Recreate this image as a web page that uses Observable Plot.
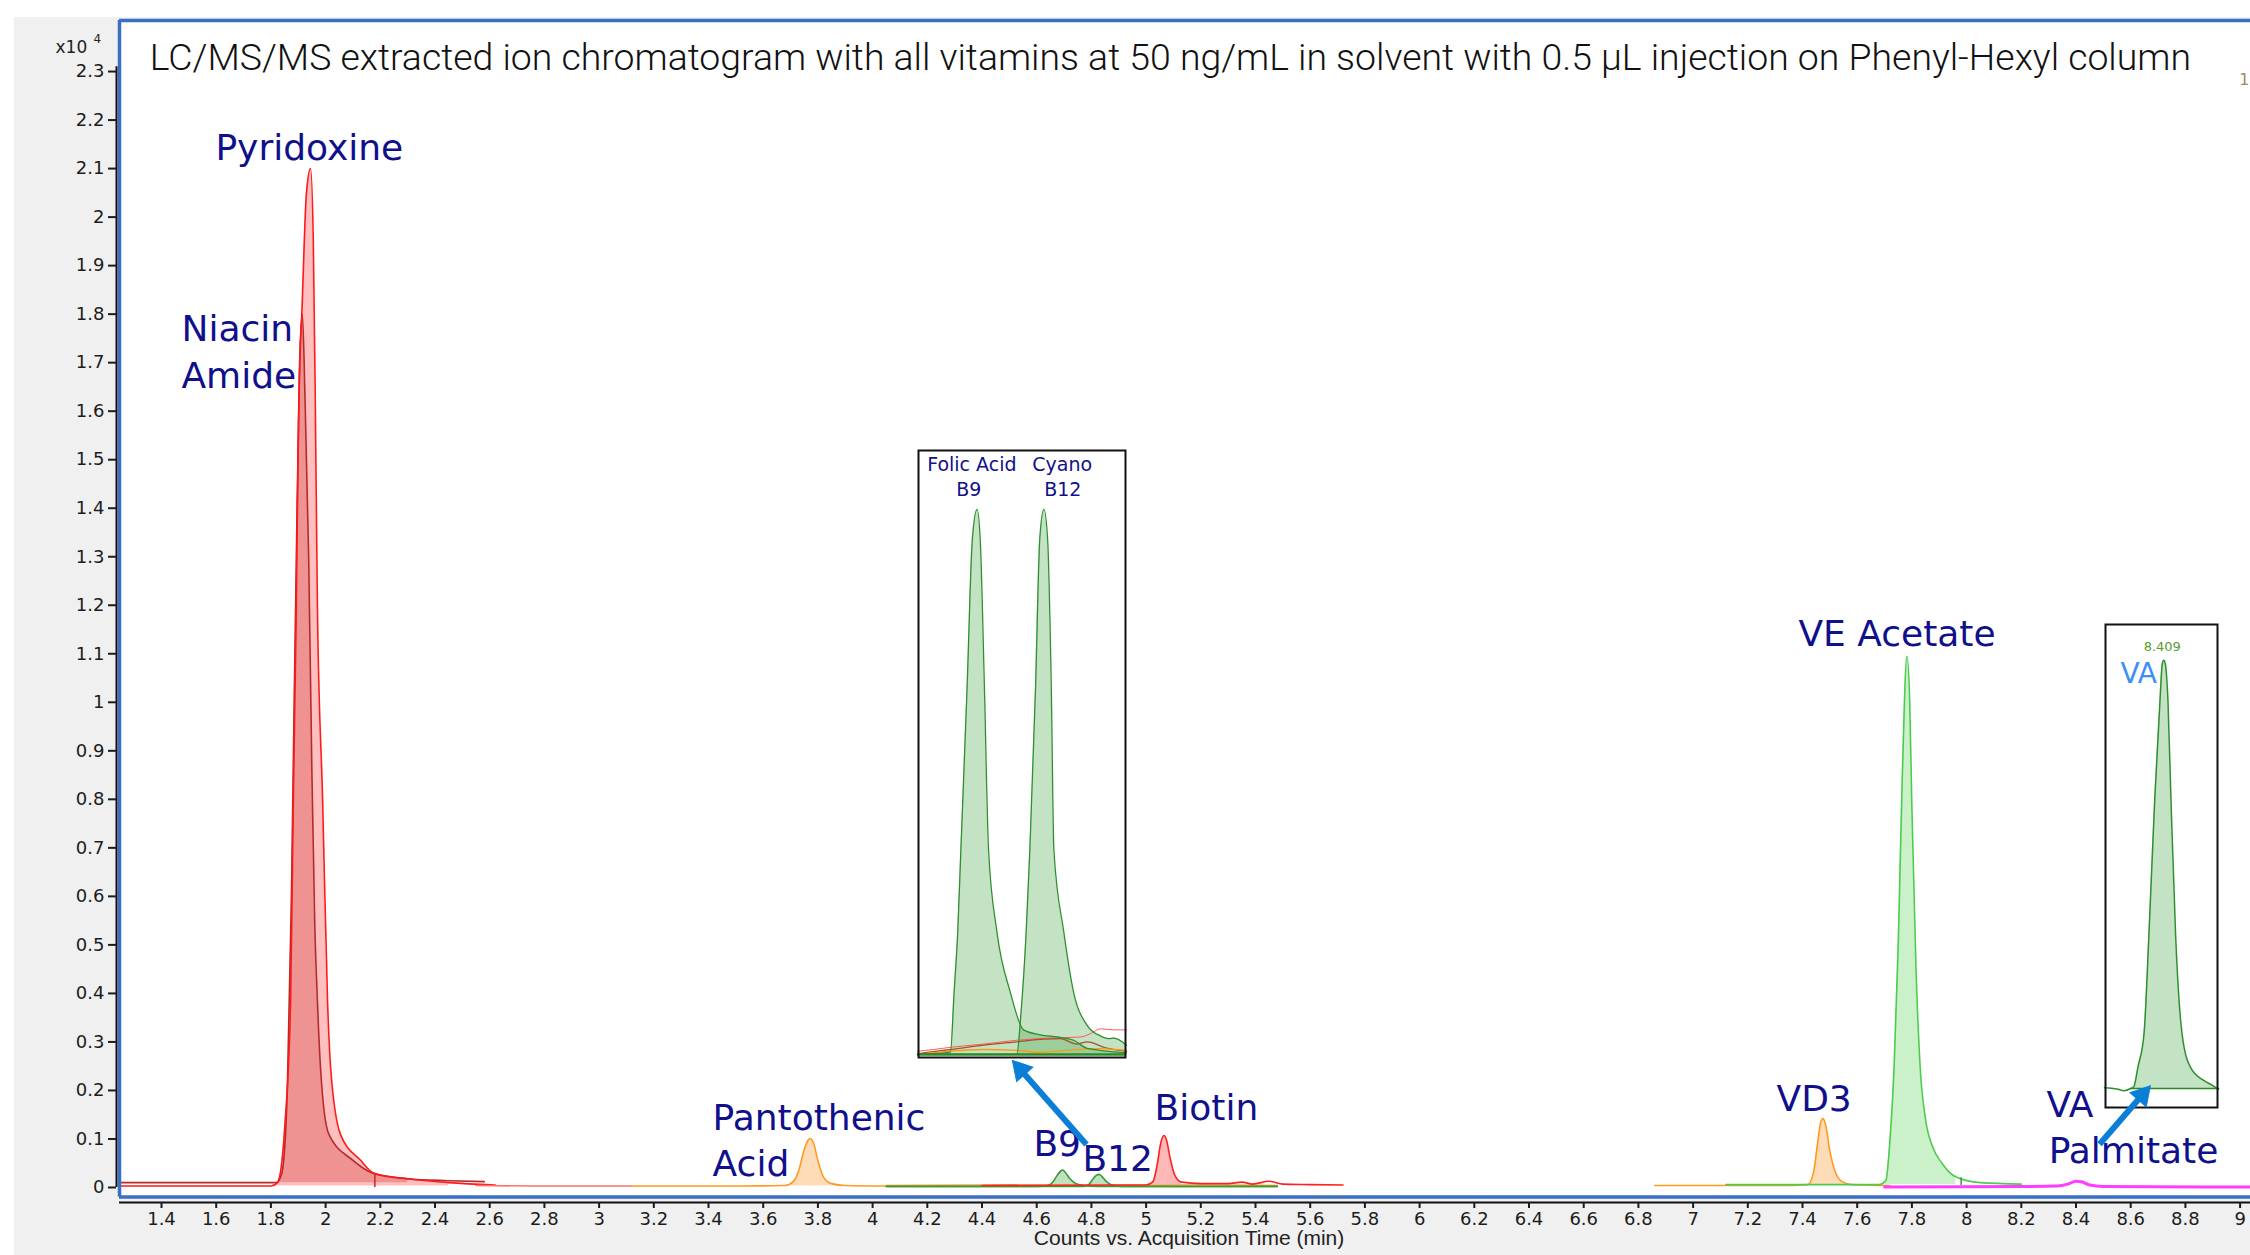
<!DOCTYPE html>
<html><head><meta charset="utf-8">
<script src="https://cdn.jsdelivr.net/npm/d3@7"></script>
<script src="https://cdn.jsdelivr.net/npm/@observablehq/plot@0.6"></script>
<style>
html,body{margin:0;padding:0;background:#fff;overflow:hidden;width:2250px;height:1255px}
#wrap{position:relative;width:2250px;height:1255px;overflow:hidden}
#bg{position:absolute;left:14px;top:17px;right:0;bottom:0;background:#f0f0f0}
#main,#overlay{position:absolute;left:0;top:0}
#overlay{pointer-events:none}
#inset1{position:absolute;left:917px;top:449px}
#inset2{position:absolute;left:2104px;top:623px}
svg{overflow:visible}
</style></head><body>
<div id="wrap"><div id="bg"></div><div id="main"></div><div id="inset1"></div><div id="inset2"></div><div id="overlay"></div></div>
<script>
// ---------- DATA (time in min, counts in x10^4) ----------
const titleText = "LC/MS/MS extracted ion chromatogram with all vitamins at 50 ng/mL in solvent with 0.5 \u03bcL injection on Phenyl-Hexyl column";
const xAxisTitle = "Counts vs. Acquisition Time (min)";
const yTicks = [0,0.1,0.2,0.3,0.4,0.5,0.6,0.7,0.8,0.9,1,1.1,1.2,1.3,1.4,1.5,1.6,1.7,1.8,1.9,2,2.1,2.2,2.3];
const xTicks = [1.4,1.6,1.8,2,2.2,2.4,2.6,2.8,3,3.2,3.4,3.6,3.8,4,4.2,4.4,4.6,4.8,5,5.2,5.4,5.6,5.8,6,6.2,6.4,6.6,6.8,7,7.2,7.4,7.6,7.8,8,8.2,8.4,8.6,8.8,9];

const niacinAmide = [[1.25,0.010],[1.60,0.010],[1.82,0.010],[1.84,0.03],[1.86,0.20],[1.875,0.60],[1.885,1.00],[1.893,1.30],[1.905,1.70],[1.915,1.80],[1.925,1.62],[1.938,1.30],[1.95,0.85],[1.96,0.55],[1.97,0.385],[1.981,0.25],[2.011,0.111],[2.10,0.056],[2.175,0.029],[2.30,0.018],[2.45,0.014],[2.58,0.012]];
const pyridoxine = [[1.25,0.003],[1.80,0.003],[1.824,0.01],[1.85,0.12],[1.872,0.385],[1.882,0.80],[1.893,1.20],[1.901,1.58],[1.915,1.83],[1.93,2.05],[1.945,2.10],[1.955,1.95],[1.963,1.58],[1.97,1.20],[1.989,0.80],[2.007,0.385],[2.018,0.25],[2.054,0.11],[2.128,0.056],[2.175,0.03],[2.30,0.018],[2.45,0.010],[2.62,0.005]];
const redSegment = [[2.55,0.004],[2.8,0.003],[3.12,0.003]];
const pantothenicAcid = [[3.12,0.003],[3.50,0.003],[3.68,0.004],[3.71,0.012],[3.73,0.035],[3.75,0.078],[3.765,0.098],[3.772,0.101],[3.785,0.09],[3.80,0.055],[3.82,0.022],[3.85,0.008],[3.90,0.004],[4.05,0.003]];
const orangeLow = [[4.05,0.004],[4.5,0.005],[4.9,0.004],[5.2,0.005],[5.48,0.004]];
const folicAcidB9 = [[4.05,0.002],[4.60,0.002],[4.64,0.004],[4.66,0.012],[4.675,0.025],[4.688,0.034],[4.695,0.036],[4.705,0.031],[4.72,0.019],[4.74,0.009],[4.77,0.004],[4.82,0.002],[5.48,0.002]];
const cyanoB12 = [[4.05,0.002],[4.77,0.002],[4.79,0.006],[4.805,0.017],[4.818,0.025],[4.828,0.027],[4.838,0.023],[4.855,0.012],[4.875,0.005],[4.91,0.002],[5.48,0.002]];
const biotin = [[4.40,0.004],[4.90,0.005],[5.00,0.005],[5.025,0.012],[5.04,0.045],[5.053,0.09],[5.065,0.107],[5.075,0.097],[5.088,0.06],[5.105,0.025],[5.13,0.011],[5.20,0.008],[5.30,0.008],[5.35,0.011],[5.39,0.007],[5.45,0.013],[5.50,0.007],[5.60,0.006],[5.72,0.005]];
const vd3 = [[6.86,0.004],[7.30,0.004],[7.42,0.006],[7.44,0.03],[7.455,0.09],[7.467,0.135],[7.475,0.142],[7.485,0.128],[7.50,0.075],[7.52,0.032],[7.545,0.012],[7.58,0.006],[7.72,0.004]];
const veAcetate = [[7.12,0.006],[7.68,0.006],[7.705,0.015],[7.72,0.10],[7.735,0.25],[7.75,0.50],[7.765,0.85],[7.782,1.095],[7.792,1.00],[7.80,0.78],[7.815,0.45],[7.83,0.25],[7.85,0.14],[7.875,0.085],[7.91,0.05],[7.96,0.022],[8.05,0.01],[8.20,0.007]];
const vaPalmitate = [[7.70,0.001],[8.20,0.002],[8.33,0.003],[8.37,0.007],[8.40,0.013],[8.42,0.012],[8.45,0.005],[8.50,0.002],[9.04,0.001]];
const integrationTicks = [[2.18,0.0,0.026,"red"],[7.98,0.004,0.02,"green"]];

const peakLabels = [
  ["Pyridoxine",1.597,2.141],["Niacin",1.473,1.768],["Amide",1.473,1.671],
  ["Pantothenic",3.415,0.142],["Acid",3.415,0.047],["B9",4.588,0.089],["B12",4.767,0.058],
  ["Biotin",5.031,0.163],["VD3",7.305,0.181],["VE Acetate",7.385,1.140],["VA",8.292,0.169],["Palmitate",8.30,0.074]
];
const arrows = [[4.782,0.0886,4.511,0.262],[8.486,0.089,8.672,0.210]];

// inset 1 (normalized intensity)
const insetB9 = [[4.58,0],[4.62,0.002],[4.643,0.004],[4.650,0.113],[4.657,0.225],[4.663,0.375],[4.675,0.676],[4.685,0.946],[4.694,1.0],[4.700,0.946],[4.708,0.676],[4.716,0.375],[4.732,0.225],[4.758,0.113],[4.783,0.045],[4.815,0.036],[4.847,0.032],[4.879,0.026],[4.905,0.011],[4.98,0.003]];
const insetB12 = [[4.58,0],[4.770,0],[4.778,0.075],[4.788,0.225],[4.795,0.375],[4.806,0.676],[4.814,0.946],[4.822,1.0],[4.829,0.946],[4.836,0.676],[4.841,0.375],[4.860,0.225],[4.879,0.113],[4.905,0.053],[4.930,0.034],[4.946,0.029],[4.956,0.030],[4.98,0.017]];
const insetRed = [[4.58,0.006],[4.611,0.009],[4.643,0.013],[4.707,0.019],[4.770,0.026],[4.834,0.030],[4.892,0.032],[4.911,0.038],[4.930,0.047],[4.956,0.045],[4.98,0.045]];
const insetBrown = [[4.58,0.0015],[4.643,0.009],[4.707,0.017],[4.770,0.023],[4.822,0.028],[4.853,0.029],[4.885,0.019],[4.905,0.023],[4.94,0.012],[4.98,0.006]];
const insetOrange = [[4.58,0],[4.643,0.006],[4.707,0.009],[4.770,0.0075],[4.815,0.004],[4.866,0.0075],[4.930,0.0105],[4.98,0.0075]];
const inset1Labels = [["Folic Acid",4.684,1.081],["B9",4.678,1.036],["Cyano",4.857,1.081],["B12",4.858,1.036]];

// inset 2 (VA, normalized)
const insetVA = [[8.253,0.002],[8.286,-0.001],[8.304,-0.005],[8.322,0],[8.330,0.004],[8.341,0.05],[8.357,0.128],[8.370,0.361],[8.385,0.672],[8.399,0.905],[8.405,0.991],[8.409,1.0],[8.413,0.991],[8.420,0.905],[8.428,0.672],[8.440,0.361],[8.457,0.128],[8.479,0.05],[8.514,0.019],[8.536,0.008],[8.553,-0.002]];
const insetVAbase = [[8.322,0],[8.553,0]];
const inset2PeakTime = "8.409";

// ---------- STYLES ----------
const NAVY = "#10108c";
const BLUE = "#3a6fc6";
const ARROW = "#0b7fd8";
const traces = [
  {data: niacinAmide, stroke:"#b52a2a", fill:"#b64444", op:0.32, win:[1.82,2.30], base:0.010},
  {data: pyridoxine, stroke:"#ff1a1a", fill:"#ff0000", op:0.25, win:[1.80,2.45], base:0.003},
  {data: redSegment, stroke:"#ff7070"},
  {data: pantothenicAcid, stroke:"#ff9a22", fill:"#ff9a33", op:0.35, win:[3.68,3.90], base:0.003},
  {data: orangeLow, stroke:"#e8961e"},
  {data: folicAcidB9, stroke:"#3a9a3a", fill:"#3aa03a", op:0.32, win:[4.62,4.80], base:0.002},
  {data: cyanoB12, stroke:"#3a9a3a", fill:"#3aa03a", op:0.32, win:[4.77,4.92], base:0.002},
  {data: biotin, stroke:"#ff2020", fill:"#ff0000", op:0.28, win:[5.00,5.16], base:0.005},
  {data: vd3, stroke:"#ff9a22", fill:"#ff9a33", op:0.35, win:[7.40,7.60], base:0.004},
  {data: veAcetate, stroke:"#4ccc4c", fill:"#50d050", op:0.3, win:[7.68,7.98], base:0.006},
  {data: vaPalmitate, stroke:"#ff3cff", width:3}
];

const X_DOMAIN = [1.2464, 9.038];
const Y_DOMAIN = [-0.0196, 2.4052];
const LAYOUT = {width: 2250, height: 1255, marginLeft: 119, marginRight: 0, marginTop: 20, marginBottom: 58.5};
const fmt = d => String(+(+d).toFixed(1));

const marks = [Plot.frame({fill:"white", stroke:null})];
for (const tr of traces) {
  if (tr.fill) {
    marks.push(Plot.areaY(tr.data.filter(d => d[0] >= tr.win[0] && d[0] <= tr.win[1]),
      {x: d => d[0], y1: tr.base, y2: d => d[1], fill: tr.fill, fillOpacity: tr.op, curve: "monotone-x"}));
  }
}
for (const tr of traces) {
  marks.push(Plot.line(tr.data, {x: d => d[0], y: d => d[1], stroke: tr.stroke, strokeWidth: tr.width || 1.6, curve: "monotone-x"}));
}
marks.push(
  Plot.ruleX(integrationTicks, {x: d => d[0], y1: d => d[1], y2: d => d[2], stroke: d => d[3] === "red" ? "#d02020" : "#3a9a3a", strokeWidth: 1.5}),
  Plot.ruleY([Y_DOMAIN[1]], {stroke: BLUE, strokeWidth: 3.5}),
  Plot.ruleY([Y_DOMAIN[0]], {stroke: BLUE, strokeWidth: 3.5}),
  Plot.ruleX([X_DOMAIN[0]], {stroke: BLUE, strokeWidth: 3.5}),
  Plot.ruleX([X_DOMAIN[0]], {y1: 0, y2: 2.31, dx: -3, stroke: "#111", strokeWidth: 2}),
  Plot.ruleY([Y_DOMAIN[0]], {dy: 5.5, stroke: "#111", strokeWidth: 2}),
  Plot.axisY(yTicks, {anchor: "left", tickSize: 8, tickPadding: 4, dx: -3, tickFormat: fmt, fontSize: 18, color: "#1c1c1c", strokeWidth: 2, label: null}),
  Plot.axisX(xTicks, {anchor: "bottom", tickSize: 6, tickPadding: 4, dy: 5.5, tickFormat: fmt, fontSize: 18, color: "#1c1c1c", strokeWidth: 2, label: null}),
  Plot.text([xAxisTitle], {frameAnchor: "bottom", dx: 4, dy: 47.5, fontSize: 21, fontFamily: "Liberation Sans", fill: "#222"}),
  Plot.text(["x10"], {x: [1.0124], y: [2.350], textAnchor: "start", fontSize: 17, fill: "#222"}),
  Plot.text(["4"], {x: [1.151], y: [2.366], textAnchor: "start", fontSize: 12, fill: "#222"}),
  Plot.text(["1"], {x: [8.997], y: [2.282], textAnchor: "start", fontSize: 16, fill: "#a08878"}),
  Plot.text([titleText], {x: [1.357], y: [2.327], textAnchor: "start", fontSize: 37.4, fontFamily: "Roboto", fontWeight: 300, fill: "#111"}),
  Plot.text(peakLabels, {x: d => d[1], y: d => d[2], text: d => d[0], textAnchor: "start", fontSize: 36, fill: NAVY})
);

const main = Plot.plot({
  ...LAYOUT,
  x: {domain: X_DOMAIN},
  y: {domain: Y_DOMAIN},
  style: {background: "transparent", fontFamily: "DejaVu Sans", overflow: "visible"},
  marks
});
document.getElementById("main").appendChild(main);

// ---------- INSET 1 ----------
const inset1 = Plot.plot({
  width: 209, height: 609, margin: 0,
  x: {domain: [4.58, 4.98], axis: null},
  y: {domain: [-0.0075, 1.11], axis: null},
  style: {background: "white", fontFamily: "DejaVu Sans", overflow: "visible"},
  marks: [
    Plot.areaY(insetB9, {x: d => d[0], y: d => d[1], fill: "#3aa03a", fillOpacity: 0.3, curve: "monotone-x"}),
    Plot.areaY(insetB12, {x: d => d[0], y: d => d[1], fill: "#3aa03a", fillOpacity: 0.3, curve: "monotone-x"}),
    Plot.line(insetRed, {x: d => d[0], y: d => d[1], stroke: "#ff5a5a", strokeWidth: 1, curve: "monotone-x"}),
    Plot.line(insetBrown, {x: d => d[0], y: d => d[1], stroke: "#a8502c", strokeWidth: 1.3, curve: "monotone-x"}),
    Plot.line(insetOrange, {x: d => d[0], y: d => d[1], stroke: "#ff9a10", strokeWidth: 1.3, curve: "monotone-x"}),
    Plot.line(insetB9, {x: d => d[0], y: d => d[1], stroke: "#2f8f2f", strokeWidth: 1.3, curve: "monotone-x"}),
    Plot.line(insetB12, {x: d => d[0], y: d => d[1], stroke: "#2f8f2f", strokeWidth: 1.3, curve: "monotone-x"}),
    Plot.ruleY([0], {stroke: "#2a8a2a", strokeWidth: 2.5}),
    Plot.text(inset1Labels, {x: d => d[1], y: d => d[2], text: d => d[0], fontSize: 19, fill: NAVY}),
    Plot.frame({stroke: "#111", strokeWidth: 2, inset: 1})
  ]
});
document.getElementById("inset1").appendChild(inset1);

// ---------- INSET 2 ----------
const inset2 = Plot.plot({
  width: 114, height: 485, margin: 0,
  x: {domain: [8.253, 8.553], axis: null},
  y: {domain: [-0.0466, 1.0855], axis: null},
  style: {background: "white", fontFamily: "DejaVu Sans", overflow: "visible"},
  marks: [
    Plot.areaY(insetVA.filter(d => d[0] >= 8.322), {x: d => d[0], y: d => d[1], fill: "#3aa03a", fillOpacity: 0.3, curve: "monotone-x"}),
    Plot.line(insetVA, {x: d => d[0], y: d => d[1], stroke: "#2f8f2f", strokeWidth: 1.5, curve: "monotone-x"}),
    Plot.line(insetVAbase, {x: d => d[0], y: d => d[1], stroke: "#2a8a2a", strokeWidth: 1.5}),
    Plot.text([inset2PeakTime], {x: [8.405], y: [1.031], fontSize: 13, fill: "#5a9a30"}),
    Plot.text(["VA"], {x: [8.343], y: [0.967], fontSize: 28, fill: "#3e8ef7"}),
    Plot.frame({stroke: "#111", strokeWidth: 2, inset: 1})
  ]
});
document.getElementById("inset2").appendChild(inset2);

// ---------- ARROWS (overlay, same scales as main) ----------
const sx = main.scale("x"), sy = main.scale("y");
const HEAD = 12.5;
const shafts = [], heads = [];
for (const a of arrows) {
  const p1 = [sx.apply(a[0]), sy.apply(a[1])], p2 = [sx.apply(a[2]), sy.apply(a[3])];
  const L = Math.hypot(p2[0]-p1[0], p2[1]-p1[1]);
  const ux = (p2[0]-p1[0])/L, uy = (p2[1]-p1[1])/L;
  const c = [p2[0]-ux*HEAD, p2[1]-uy*HEAD];
  shafts.push({x1: a[0], y1: a[1], x2: sx.invert(c[0]), y2: sy.invert(c[1])});
  heads.push({x: sx.invert(c[0]), y: sy.invert(c[1]), angle: Math.atan2(ux, -uy) * 180 / Math.PI});
}
const overlay = Plot.plot({
  ...LAYOUT,
  x: {domain: X_DOMAIN, axis: null},
  y: {domain: Y_DOMAIN, axis: null},
  style: {background: "transparent", overflow: "visible"},
  marks: [
    Plot.link(shafts, {x1: "x1", y1: "y1", x2: "x2", y2: "y2", stroke: ARROW, strokeWidth: 6}),
    Plot.dot(heads, {x: "x", y: "y", symbol: "triangle", r: 8, rotate: "angle", fill: ARROW, stroke: ARROW, strokeWidth: 1})
  ]
});
document.getElementById("overlay").appendChild(overlay);
</script>
</body></html>
